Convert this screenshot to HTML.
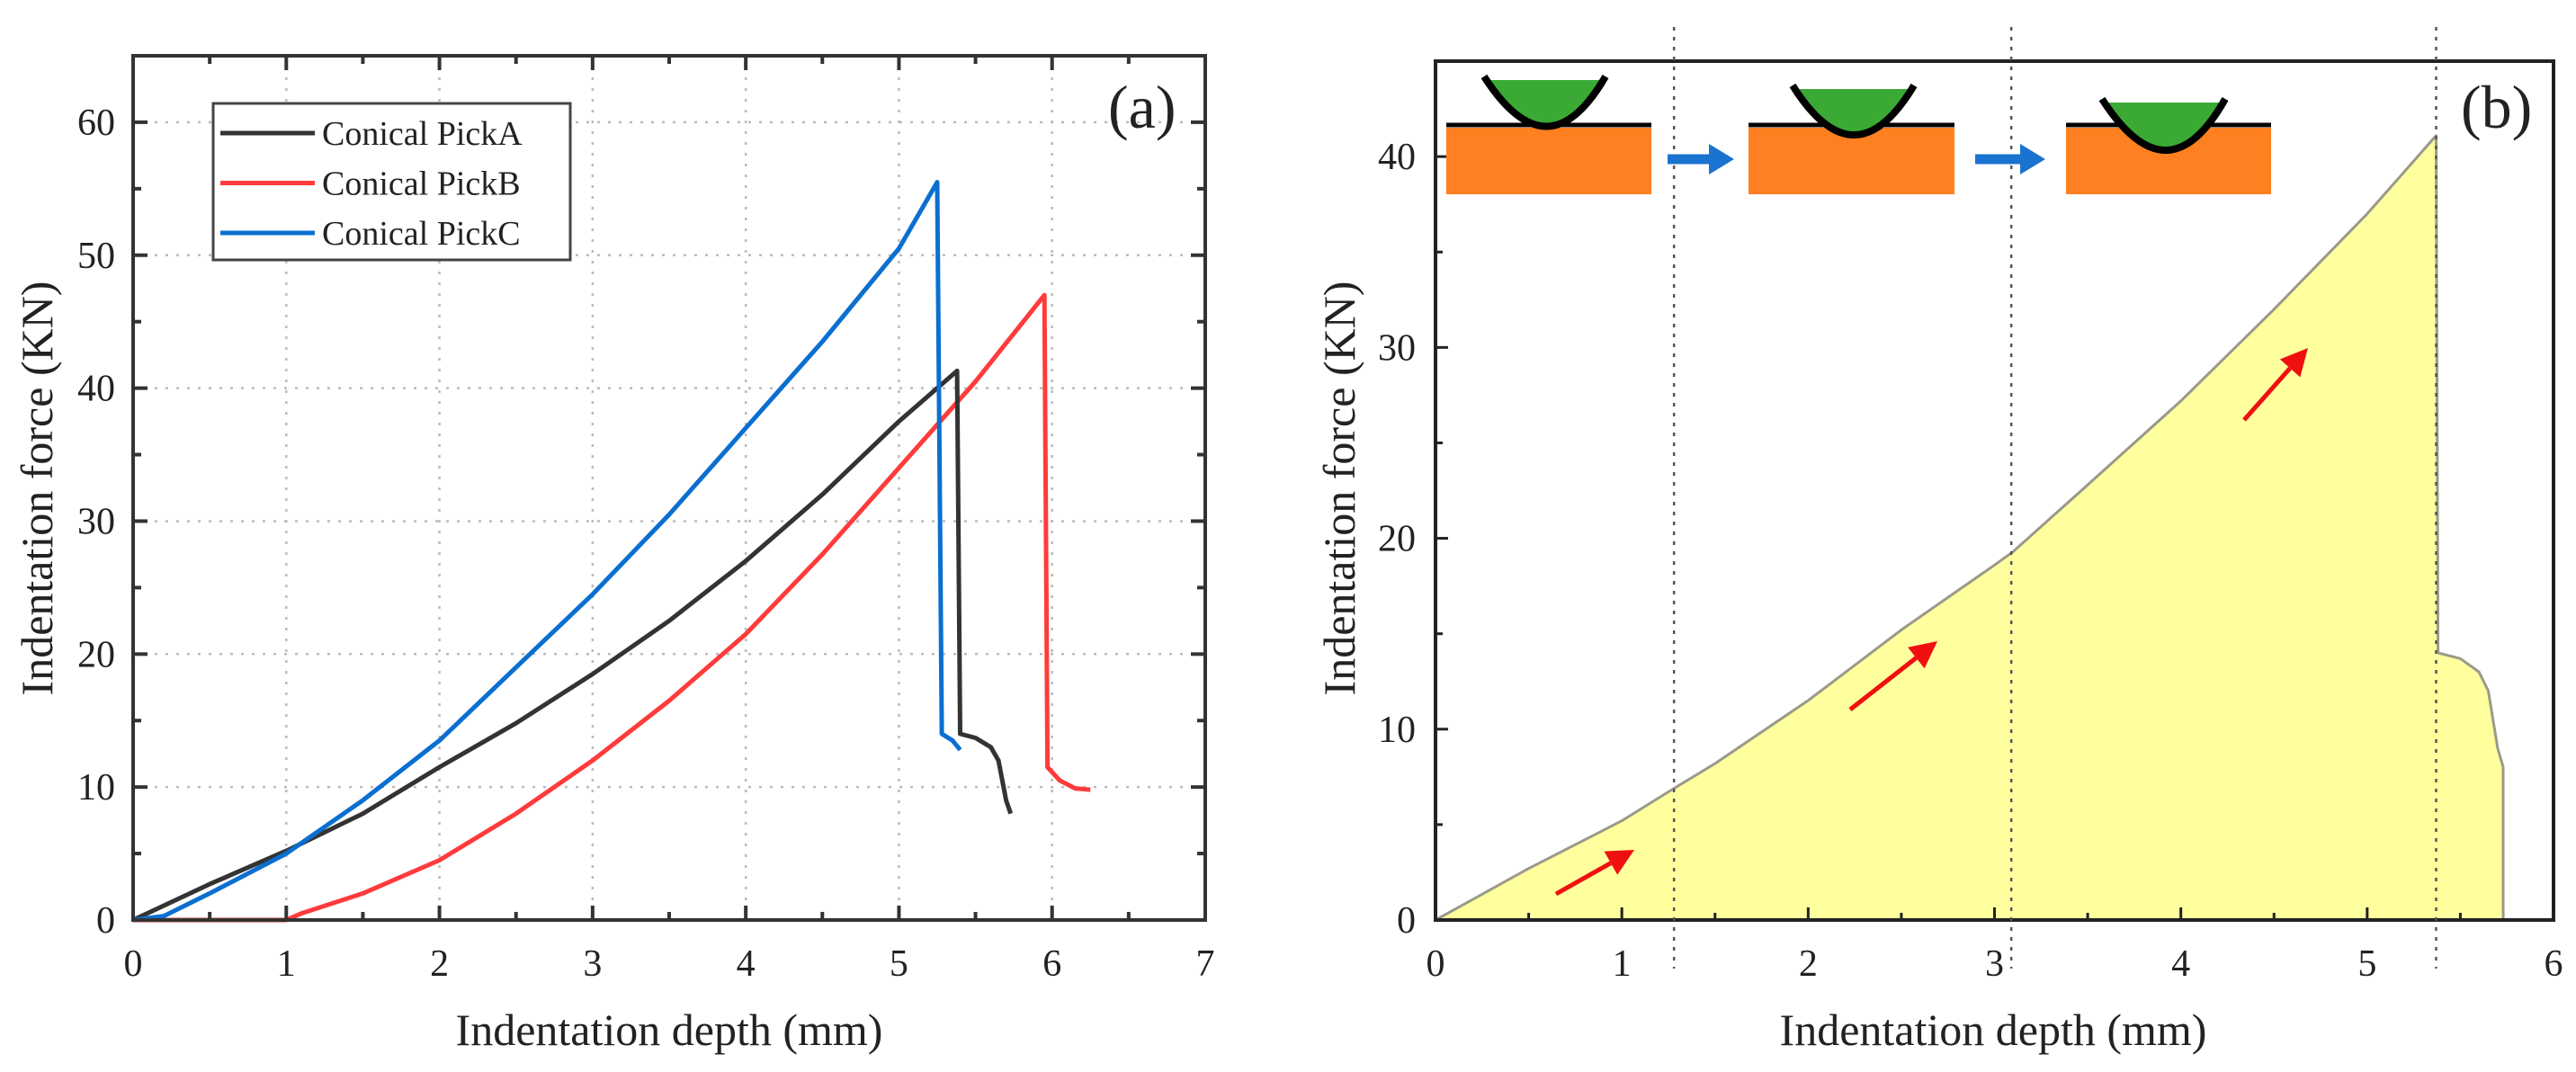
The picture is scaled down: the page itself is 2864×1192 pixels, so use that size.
<!DOCTYPE html>
<html><head><meta charset="utf-8"><style>
html,body{margin:0;padding:0;background:#fff}
svg{display:block}
text{font-family:"Liberation Serif",serif;fill:#222}
</style></head><body>
<svg id="fig" width="2864" height="1192" viewBox="0 0 2864 1192" xmlns="http://www.w3.org/2000/svg">
<g id="pa"></g>
<g id="pb"></g>
</svg>
<script>
// ---- panel (a) data ----
const aXTicks = [0,1,2,3,4,5,6,7];
const aYTicks = [0,10,20,30,40,50,60];
const pickA_x = [0,0.5,1,1.5,2,2.5,3,3.5,4,4.5,5,5.38,5.4,5.5,5.6,5.65,5.7,5.73];
const pickA_y = [0,2.7,5.2,8,11.5,14.8,18.5,22.5,27,32,37.5,41.3,14,13.7,13,12,9,8];
const pickB_x = [0,1,1.1,1.5,2,2.5,3,3.5,4,4.5,5,5.5,5.95,5.97,6.05,6.15,6.25];
const pickB_y = [0,0,0.5,2,4.5,8,12,16.5,21.5,27.5,34,40.5,47,11.5,10.5,9.9,9.8];
const pickC_x = [0,0.2,0.5,1,1.5,2,2.5,3,3.5,4,4.5,5,5.25,5.28,5.35,5.4];
const pickC_y = [0,0.3,2,5,9,13.5,19,24.5,30.5,37,43.5,50.5,55.5,14,13.5,12.8];
const legendLabels = ["Conical PickA","Conical PickB","Conical PickC"];
// ---- panel (b) data ----
const bXTicks = [0,1,2,3,4,5,6];
const bYTicks = [0,10,20,30,40];
const stageX = [1.28,3.09,5.37];
const curveB_x = [0,0.5,1,1.28,1.5,2,2.5,3,3.1,3.5,4,4.5,5,5.37,5.38,5.5,5.6,5.65,5.7,5.73];
const curveB_y = [0,2.7,5.2,6.9,8.2,11.5,15.2,18.6,19.3,22.8,27.2,32,37,41.1,14,13.7,13,12,9,8];

const NS="http://www.w3.org/2000/svg";
function mk(parent,tag,attrs,txt){const e=document.createElementNS(NS,tag);for(const k in attrs)e.setAttribute(k,attrs[k]);if(txt!==undefined)e.textContent=txt;parent.appendChild(e);return e;}

// ===== panel a =====
const pa=document.getElementById('pa');
const aL=148,aR=1340,aB=1023,aT=62;
const ax=v=>aL+(aR-aL)*v/7, ay=v=>aB-(aB-aT)*v/65;
// grid
aXTicks.forEach(v=>{if(v>0&&v<7){const g=mk(pa,'line',{x1:ax(v),x2:ax(v),y1:aT,y2:aB,stroke:'#bbb','stroke-width':2.5,'stroke-dasharray':'3,9'});

}});
aYTicks.forEach(v=>{if(v>0){const g=mk(pa,'line',{x1:aL,x2:aR,y1:ay(v),y2:ay(v),stroke:'#bbb','stroke-width':2.5,'stroke-dasharray':'3,9'});

}});
// series
function line(parent,xs,ys,sx,sy,color,w,name){const d=xs.map((x,i)=>(i?'L':'M')+sx(x).toFixed(1)+','+sy(ys[i]).toFixed(1)).join('');const p=mk(parent,'path',{d:d,fill:'none',stroke:color,'stroke-width':w,'stroke-linejoin':'round'});


return p;}
line(pa,pickB_x,pickB_y,ax,ay,'#ff3b3b',5,'series-pick-b');
line(pa,pickA_x,pickA_y,ax,ay,'#333333',5,'series-pick-a');
line(pa,pickC_x,pickC_y,ax,ay,'#0a6fd0',5,'series-pick-c');
// frame
const fa=mk(pa,'rect',{x:aL,y:aT,width:aR-aL,height:aB-aT,fill:'none',stroke:'#333','stroke-width':4});


// ticks
aXTicks.forEach(v=>{
 [aB,aT].forEach((yy,k)=>{mk(pa,'line',{x1:ax(v),x2:ax(v),y1:yy,y2:k?yy+16:yy-16,stroke:'#333','stroke-width':4});});
 if(v<7)[aB,aT].forEach((yy,k)=>{mk(pa,'line',{x1:ax(v+0.5),x2:ax(v+0.5),y1:yy,y2:k?yy+9:yy-9,stroke:'#333','stroke-width':4});});
 const t=mk(pa,'text',{x:ax(v),y:aB+62,'font-size':42,'text-anchor':'middle'},String(v));
 
 
});
aYTicks.forEach(v=>{
 [aL,aR].forEach((xx,k)=>{mk(pa,'line',{x1:xx,x2:k?xx-16:xx+16,y1:ay(v),y2:ay(v),stroke:'#333','stroke-width':4});});
 if(v<60)[aL,aR].forEach((xx,k)=>{mk(pa,'line',{x1:xx,x2:k?xx-9:xx+9,y1:ay(v+5),y2:ay(v+5),stroke:'#333','stroke-width':4});});
 const t=mk(pa,'text',{x:aL-20,y:ay(v)+14,'font-size':42,'text-anchor':'end'},String(v));
 
 
});
// legend
const lg=mk(pa,'g',{});


mk(lg,'rect',{x:237,y:115,width:397,height:174,fill:'#fff',stroke:'#444','stroke-width':3});
const lcol=['#333333','#ff3b3b','#0a6fd0'];
legendLabels.forEach((s,i)=>{const yy=148+i*55.5;
 const ln=mk(lg,'line',{x1:245,x2:350,y1:yy,y2:yy,stroke:lcol[i],'stroke-width':5});
 
 
 const t=mk(lg,'text',{x:358,y:yy+13,'font-size':38},s);
 
 
});
const la=mk(pa,'text',{x:1232,y:142,'font-size':68},'(a)');


const xta=mk(pa,'text',{x:(aL+aR)/2,y:1162,'font-size':50,'text-anchor':'middle'},'Indentation depth (mm)');


const yta=mk(pa,'text',{x:0,y:0,'font-size':50,'text-anchor':'middle',transform:'translate(58,543) rotate(-90)'},'Indentation force (KN)');



// ===== panel b =====
const pb=document.getElementById('pb');
const bL=1596,bR=2839,bB=1023,bT=68;
const bx=v=>bL+(bR-bL)*v/6, by=v=>bB-(bB-bT)*v/45;
const fd='M'+bx(0)+','+by(0)+curveB_x.map((x,i)=>'L'+bx(x).toFixed(1)+','+by(curveB_y[i]).toFixed(1)).join('')+'L'+bx(curveB_x[curveB_x.length-1])+','+by(0)+'Z';
const fill=mk(pb,'path',{d:fd,fill:'#ffff9e',stroke:'none'});


line(pb,curveB_x,curveB_y,bx,by,'#9a9a8a',3,'force-curve');
const lastX=curveB_x[curveB_x.length-1];
mk(pb,'line',{x1:bx(lastX),x2:bx(lastX),y1:by(curveB_y[curveB_y.length-1]),y2:bB,stroke:'#9a9a8a','stroke-width':3});
const fb=mk(pb,'rect',{x:bL,y:bT,width:bR-bL,height:bB-bT,fill:'none',stroke:'#222','stroke-width':4});


stageX.forEach(v=>{const l=mk(pb,'line',{x1:bx(v),x2:bx(v),y1:30,y2:1077,stroke:'#555','stroke-width':2.5,'stroke-dasharray':'4,7'});

});
bXTicks.forEach(v=>{
 mk(pb,'line',{x1:bx(v),x2:bx(v),y1:bB,y2:bB-14,stroke:'#222','stroke-width':3});
 if(v<6)mk(pb,'line',{x1:bx(v+0.5),x2:bx(v+0.5),y1:bB,y2:bB-8,stroke:'#222','stroke-width':3});
 const t=mk(pb,'text',{x:bx(v),y:bB+62,'font-size':42,'text-anchor':'middle'},String(v));
 
 
});
bYTicks.forEach(v=>{
 mk(pb,'line',{x1:bL,x2:bL+14,y1:by(v),y2:by(v),stroke:'#222','stroke-width':3});
 mk(pb,'line',{x1:bL,x2:bL+8,y1:by(v+5),y2:by(v+5),stroke:'#222','stroke-width':3});
 const t=mk(pb,'text',{x:bL-22,y:by(v)+14,'font-size':42,'text-anchor':'end'},String(v));
 
 
});
// insets
const insets=[{x:1608,w:228,tipX:1721,tipY:152,topY:89,tl:1656,tr:1779},{x:1944,w:229,tipX:2062,tipY:161,topY:99,tl:1999,tr:2122},{x:2297,w:228,tipX:2410,tipY:180,topY:114,tl:2343,tr:2468}];
insets.forEach((s,i)=>{const g=mk(pb,'g',{});
 
 
 mk(g,'rect',{x:s.x,y:142,width:s.w,height:74,fill:'#ff8020'});
 mk(g,'path',{d:`M${s.x},139L${s.x+s.w},139`,stroke:'#000','stroke-width':5});
 mk(g,'path',{d:`M${s.tl},${s.topY}Q${s.tipX},${s.tipY+40} ${s.tr},${s.topY}Z`,fill:'#3aaa35'});
 mk(g,'path',{d:`M${s.tl-6},${s.topY-4}Q${s.tipX},${s.tipY+44} ${s.tr+6},${s.topY-4}`,fill:'none',stroke:'#000','stroke-width':8});
});
[[1854,1928],[2196,2274]].forEach(a=>{const g=mk(pb,'g',{});
 
 
 mk(g,'line',{x1:a[0],x2:a[1]-22,y1:177,y2:177,stroke:'#1a73d0','stroke-width':11});
 mk(g,'polygon',{points:`${a[1]},177 ${a[1]-28},160 ${a[1]-28},194`,fill:'#1a73d0'});
});
[[1730,994,1817,945],[2057,789,2154,713],[2495,467,2566,387]].forEach(a=>{const g=mk(pb,'g',{});
 
 
 const dx=a[2]-a[0],dy=a[3]-a[1],L=Math.hypot(dx,dy),ux=dx/L,uy=dy/L;
 const bx0=a[2]-ux*30,by0=a[3]-uy*30;
 mk(g,'line',{x1:a[0],y1:a[1],x2:bx0,y2:by0,stroke:'#f01010','stroke-width':5});
 mk(g,'polygon',{points:`${a[2]},${a[3]} ${bx0-uy*15},${by0+ux*15} ${bx0+uy*15},${by0-ux*15}`,fill:'#f01010'});
});
const lb=mk(pb,'text',{x:2736,y:142,'font-size':68},'(b)');


const xtb=mk(pb,'text',{x:2216,y:1162,'font-size':50,'text-anchor':'middle'},'Indentation depth (mm)');


const ytb=mk(pb,'text',{x:0,y:0,'font-size':50,'text-anchor':'middle',transform:'translate(1506,543) rotate(-90)'},'Indentation force (KN)');


</script>
</body></html>
